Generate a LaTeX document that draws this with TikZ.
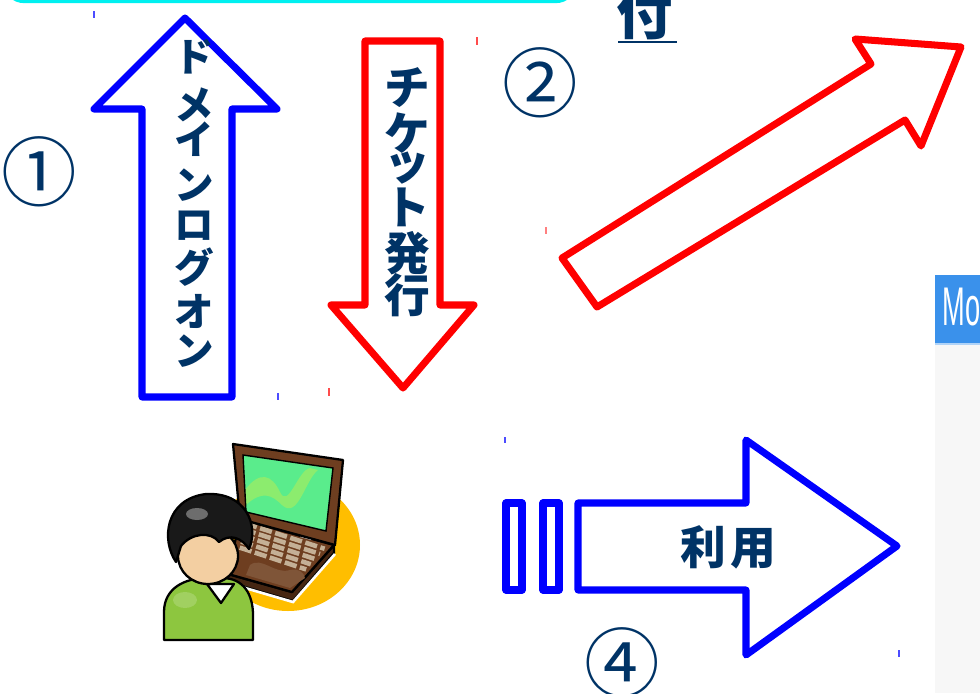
\documentclass[tikz,border=0pt]{standalone}
\usepackage{fontspec}
\newfontfamily\jpfont{Noto Sans CJK JP}
\newfontfamily\hdfont{Liberation Sans}
\definecolor{navy}{RGB}{0,51,102}
\definecolor{arrowblue}{RGB}{0,0,255}
\definecolor{arrowred}{RGB}{255,0,0}
\definecolor{boxcyan}{RGB}{0,240,240}
\definecolor{sunyellow}{RGB}{255,190,0}
\definecolor{shirt}{RGB}{141,198,63}
\definecolor{skin}{RGB}{243,207,162}
\definecolor{lapbrown}{RGB}{110,62,32}
\definecolor{lapdark}{RGB}{70,38,18}
\definecolor{keytan}{RGB}{196,176,150}
\definecolor{scrgreen}{RGB}{90,236,140}
\definecolor{scrwave}{RGB}{140,236,110}
\definecolor{panelgray}{RGB}{247,247,247}
\definecolor{headblue}{RGB}{58,145,235}
\usetikzlibrary{calc}
\tikzset{
  bluearrow/.style={draw=arrowblue, line width=4pt, line join=round, fill=white},
  redarrow/.style={draw=arrowred, line width=4pt, line join=round, fill=white},
  vtext/.style={font=\jpfont\bfseries\fontsize{22.5pt}{24pt}\selectfont, text=navy, inner sep=0pt},
  rtext/.style={font=\jpfont\bfseries\fontsize{26pt}{28pt}\selectfont, text=navy, inner sep=0pt},
  numtext/.style={font=\jpfont\fontsize{43pt}{46pt}\selectfont, text=navy, inner sep=0pt},
  outline/.style={draw=black, line width=1.3pt, line join=round},
  tick/.style={line width=0.7pt},
}
\begin{document}
\begin{tikzpicture}[x=0.02cm, y=-0.02cm]
\useasboundingbox (0,0) rectangle (980,693);
\begin{scope}
\clip (0,0) rectangle (980,693);

% top box edge
\draw[boxcyan, line width=1.8pt, rounded corners=10pt] (6,-40) rectangle (574,1.5);

% step 1: domain logon (up)
\draw[bluearrow] (185,18) -- (277,109) -- (232,109) -- (232,397) -- (142,397)
  -- (142,109) -- (94,109) -- cycle;
\foreach \c/\yy [count=\i] in {ド/57,メ/105,イ/139,ン/185,ロ/226,グ/267,オ/311,ン/351}
  \node[vtext] (logon\i) at (194,\yy) {\c};

% step 2: ticket issue (down)
\draw[redarrow] (365,41) -- (440,41) -- (440,305) -- (474,305) -- (403,388)
  -- (331,305) -- (365,305) -- cycle;
\foreach \c/\yy [count=\i] in {チ/88,ケ/133,ッ/168,ト/207,発/253,行/295}
  \node[rtext] (ticket\i) at (407,\yy) {\c};

% diagonal arrow
\draw[redarrow] (562,258) -- (871,64) -- (855,39) -- (961,47) -- (921,146)
  -- (905,120) -- (597,307) -- cycle;

% step 4: use (right)
\draw[bluearrow] (506,503) rectangle (522,590);
\draw[bluearrow] (543,503) rectangle (559,590);
\draw[bluearrow] (578,503) -- (746,503) -- (746,440) -- (897,546) -- (746,655)
  -- (746,590) -- (578,590) -- cycle;
\node[font=\jpfont\bfseries\fontsize{26pt}{28pt}\selectfont, text=navy, inner sep=0pt]
  (use) at (728,547) {利\hspace{2.3pt}用};

% circled step numbers
\node[numtext] (n1) at (39,172) {①};
\node[numtext] (n2) at (540,83) {②};
\node[numtext] (n4) at (622,663) {④};

% heading fragment
\node[font=\jpfont\bfseries\fontsize{32pt}{34pt}\selectfont, text=navy, inner sep=0pt,
  anchor=south] (tsuke) at (645,40) {付};
\draw[navy, line width=1.1pt] (618,42) -- (677,42);

% side panel
\fill[panelgray] (935,275) rectangle (980,693);
\fill[headblue] (935,275) rectangle (980,344);
\draw[headblue!40, line width=0.6pt] (935,344) -- (980,344);
\node[font=\hdfont\fontsize{31pt}{33pt}\selectfont, text=white, inner sep=0pt,
  anchor=base west] (paneltitle) at (942,325) {\scalebox{0.5}[1]{Mo}};

% stray ticks
\draw[tick, arrowblue!70] (94,11) -- (94,18);
\draw[tick, arrowred!70] (477,37) -- (477,45);
\draw[tick, arrowred!50] (546,227) -- (546,234);
\draw[tick, arrowblue!70] (278,393) -- (278,400);
\draw[tick, arrowred!70] (329,388) -- (329,396);
\draw[tick, arrowblue!70] (505,437) -- (505,443);
\draw[tick, arrowblue!70] (899,650) -- (899,657);

% user at laptop
\fill[sunyellow] (288,545) ellipse [x radius=72, y radius=66];
% laptop base
\draw[outline, fill=lapdark, draw=black] (228,574) -- (292,592) -- (334,545) -- (334,553)
  -- (293,601) -- (228,582) -- cycle;
\draw[white, line width=1.5pt] (228,583) -- (293,602) -- (335,554);
\draw[outline, fill=lapbrown] (240,519) -- (334,545) -- (292,592) -- (228,574) -- cycle;
\foreach \t in {0.08,0.19,0.30,0.41,0.52}
  \draw[keytan, line width=2.6pt, dash pattern=on 7pt off 2pt]
    ($(240,519)!\t!(228,574)+(6,0)$) -- ($(334,545)!\t!(292,592)+(-6,0)$);
\fill[lapbrown!80!keytan] (250,565) .. controls (262,556) and (275,575) .. (290,570)
  .. controls (298,568) and (304,572) .. (305,578) -- (290,588) -- (246,575) -- cycle;
\fill[gray!20] (302,534) -- (313,537) -- (311,540) -- (300,537) -- cycle;
% laptop screen
\draw[outline, fill=lapbrown] (233,444) -- (343,460) -- (335,545) -- (240,519) -- cycle;
\fill[scrgreen] (243,455) -- (333,468) -- (326,531) -- (246,512) -- cycle;
\fill[scrwave] (245,490) .. controls (260,470) and (272,475) .. (280,492)
  .. controls (288,510) and (298,470) .. (310,468) -- (318,470)
  .. controls (305,480) and (298,520) .. (282,505)
  .. controls (272,495) and (262,490) .. (246,505) -- cycle;
\draw[line width=0.8pt] (243,455) -- (333,468) -- (326,531) -- (246,512) -- cycle;
% person
\draw[outline, fill=shirt] (164,640) -- (164,612) .. controls (164,588) and (185,578) .. (207,578)
  -- (222,578) .. controls (244,578) and (253,595) .. (253,615) -- (253,640) -- cycle;
\fill[shirt!70!white, opacity=0.6] (185,600) ellipse [x radius=12, y radius=8];
\draw[outline, fill=white] (207,584) -- (221,603) -- (234,584) -- cycle;
\draw[outline, fill=skin] (208,556) ellipse [x radius=30, y radius=28];
\draw[outline, fill=black!90] (176,562) .. controls (161,540) and (165,499) .. (206,494)
  .. controls (246,492) and (259,525) .. (249,549)
  .. controls (242,538) and (230,533) .. (219,542)
  .. controls (211,531) and (191,533) .. (181,546) -- cycle;
\fill[gray!70, opacity=0.6] (197,514) ellipse [x radius=11, y radius=6];
\end{scope}
\end{tikzpicture}
\end{document}
